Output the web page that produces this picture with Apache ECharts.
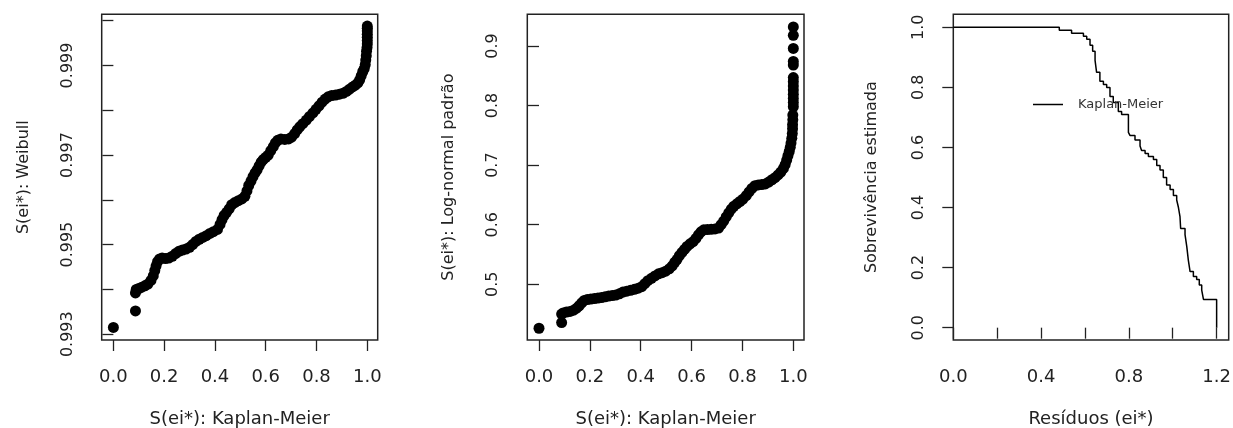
<!DOCTYPE html>
<html><head><meta charset="utf-8">
<script src="https://cdn.jsdelivr.net/npm/echarts@6/dist/echarts.min.js"></script>
<style>html,body{margin:0;padding:0;background:#fff}#c{width:1233px;height:428px}</style>
</head><body><div id="c"></div>
<script>
// Panel 1: S(ei*) Kaplan-Meier vs S(ei*) Weibull
const kmX1 = [0.000,0.087,0.087,0.090,0.100,0.112,0.124,0.136,0.148,0.157,0.163,0.168,0.174,0.182,0.192,0.205,0.218,0.232,0.245,0.258,0.272,0.286,0.300,0.312,0.325,0.338,0.352,0.366,0.380,0.394,0.410,0.420,0.428,0.436,0.446,0.456,0.466,0.478,0.492,0.506,0.518,0.526,0.533,0.542,0.550,0.558,0.566,0.574,0.582,0.590,0.600,0.610,0.620,0.630,0.638,0.647,0.660,0.675,0.690,0.702,0.714,0.724,0.734,0.746,0.760,0.772,0.786,0.798,0.810,0.822,0.834,0.846,0.860,0.875,0.890,0.904,0.918,0.930,0.942,0.953,0.963,0.970,0.976,0.982,0.988,0.992,0.994,0.996,0.997,0.999,1.000,1.000,1.000,1.000,1.000,1.000,1.000];
const weibullY = [0.99315,0.99352,0.99392,0.99400,0.99402,0.99405,0.99408,0.99412,0.99420,0.99430,0.99442,0.99452,0.99462,0.99468,0.99470,0.99469,0.99470,0.99474,0.99480,0.99485,0.99488,0.99490,0.99494,0.99500,0.99507,0.99512,0.99516,0.99520,0.99525,0.99529,0.99534,0.99545,0.99556,0.99565,0.99572,0.99580,0.99589,0.99594,0.99598,0.99602,0.99608,0.99620,0.99632,0.99642,0.99652,0.99660,0.99667,0.99676,0.99684,0.99690,0.99695,0.99700,0.99710,0.99719,0.99727,0.99733,0.99736,0.99735,0.99736,0.99740,0.99748,0.99756,0.99763,0.99770,0.99778,0.99786,0.99794,0.99802,0.99810,0.99818,0.99825,0.99830,0.99833,0.99834,0.99836,0.99838,0.99842,0.99847,0.99852,0.99856,0.99861,0.99868,0.99877,0.99886,0.99893,0.99902,0.99912,0.99922,0.99932,0.99940,0.99948,0.99956,0.99963,0.99970,0.99977,0.99983,0.99988];

// Panel 2: S(ei*) Kaplan-Meier vs S(ei*) Log-normal padrão
const kmX2 = [0.000,0.089,0.089,0.095,0.108,0.122,0.136,0.148,0.158,0.168,0.178,0.190,0.204,0.218,0.232,0.246,0.260,0.274,0.288,0.302,0.316,0.330,0.345,0.360,0.375,0.390,0.404,0.416,0.428,0.442,0.456,0.470,0.484,0.498,0.512,0.524,0.534,0.543,0.552,0.562,0.572,0.582,0.594,0.606,0.617,0.627,0.637,0.648,0.662,0.677,0.692,0.706,0.716,0.726,0.736,0.746,0.756,0.766,0.778,0.790,0.802,0.815,0.826,0.837,0.849,0.862,0.876,0.890,0.903,0.916,0.928,0.940,0.951,0.961,0.968,0.974,0.979,0.984,0.988,0.991,0.994,0.996,0.997,0.997,0.998,0.998,1.000,1.000,1.000,1.000,1.000,1.000,1.000,1.000,1.000,1.000,1.000,1.000,1.000];
const lognormY = [0.4262,0.4357,0.4500,0.4520,0.4535,0.4545,0.4565,0.4600,0.4640,0.4690,0.4730,0.4745,0.4752,0.4760,0.4770,0.4778,0.4790,0.4803,0.4810,0.4820,0.4840,0.4870,0.4885,0.4900,0.4915,0.4935,0.4960,0.5010,0.5060,0.5100,0.5140,0.5175,0.5195,0.5220,0.5260,0.5310,0.5370,0.5420,0.5480,0.5535,0.5585,0.5635,0.5680,0.5715,0.5770,0.5830,0.5880,0.5915,0.5920,0.5922,0.5930,0.5945,0.6000,0.6060,0.6130,0.6200,0.6260,0.6310,0.6350,0.6390,0.6430,0.6490,0.6550,0.6610,0.6655,0.6668,0.6675,0.6685,0.6715,0.6755,0.6790,0.6835,0.6885,0.6945,0.7010,0.7085,0.7160,0.7230,0.7300,0.7370,0.7450,0.7530,0.7610,0.7680,0.7760,0.7840,0.7980,0.8050,0.8120,0.8190,0.8260,0.8330,0.8400,0.8470,0.8680,0.8740,0.8960,0.9180,0.9320];

// Panel 3: Kaplan-Meier curve of residuals
const kmTime = [0.000,0.483,0.539,0.593,0.608,0.623,0.635,0.646,0.653,0.668,0.684,0.699,0.714,0.729,0.752,0.767,0.798,0.805,0.828,0.851,0.858,0.874,0.889,0.912,0.927,0.942,0.957,0.972,0.988,1.003,1.018,1.026,1.033,1.036,1.056,1.064,1.071,1.079,1.094,1.109,1.121,1.132,1.140,1.200];
const kmSurv = [1.000,0.990,0.980,0.970,0.960,0.940,0.920,0.890,0.850,0.820,0.810,0.800,0.770,0.750,0.720,0.710,0.650,0.640,0.625,0.605,0.590,0.580,0.570,0.560,0.540,0.525,0.500,0.475,0.460,0.440,0.425,0.400,0.370,0.330,0.310,0.270,0.225,0.187,0.170,0.160,0.142,0.125,0.094,0.000];

// Tick values / labels
const xTicksKM = [0.0,0.2,0.4,0.6,0.8,1.0];
const yTicksWeibull = [0.993,0.994,0.995,0.996,0.997,0.998,0.999,1.000];
const yLabelsWeibull = [0.993,0.995,0.997,0.999];
const yTicksLognorm = [0.5,0.6,0.7,0.8,0.9];
const xTicksResid = [0.0,0.2,0.4,0.6,0.8,1.0,1.2];
const xLabelsResid = [0.0,0.4,0.8,1.2];
const yTicksSurv = [0.0,0.2,0.4,0.6,0.8,1.0];

const FONT = 'DejaVu Sans';
const TXT = '#222';

function xAxis(gi, min, max, ticks, labels, name, dec) {
  return {
    type: 'value', gridIndex: gi, min: min, max: max,
    name: name, nameLocation: 'middle', nameGap: 70,
    nameTextStyle: {fontFamily: FONT, fontSize: 18, color: TXT},
    axisLine: {show: false}, splitLine: {show: false},
    axisTick: {show: true, inside: false, length: 11, customValues: ticks, lineStyle: {color: '#222', width: 1.3}},
    axisLabel: {show: true, margin: 28, customValues: labels, fontFamily: FONT, fontSize: 18, color: TXT,
      formatter: v => v.toFixed(dec)}
  };
}
function yAxis(gi, min, max, ticks, labels, name, dec, gap) {
  return {
    type: 'value', gridIndex: gi, min: min, max: max,
    name: name, nameLocation: 'middle', nameGap: gap, nameRotate: 90,
    nameTextStyle: {fontFamily: FONT, fontSize: 16, color: TXT},
    axisLine: {show: false}, splitLine: {show: false},
    axisTick: {show: true, inside: false, length: 11, customValues: ticks, lineStyle: {color: '#222', width: 1.3}},
    axisLabel: {show: true, margin: 26, rotate: 90, customValues: labels, fontFamily: FONT, fontSize: 16, color: TXT,
      formatter: v => v.toFixed(dec)}
  };
}

const gridStyle = {show: true, borderColor: '#222', borderWidth: 1.5, backgroundColor: 'transparent',
  containLabel: false, outerBoundsMode: 'none'};

const option = {
  animation: false,
  backgroundColor: '#fff',
  grid: [
    Object.assign({left: 101.7, top: 14.3, width: 276, height: 325.7}, gridStyle),
    Object.assign({left: 527.3, top: 14.3, width: 276.7, height: 325.7}, gridStyle),
    Object.assign({left: 953.3, top: 14.3, width: 275.4, height: 325.7}, gridStyle)
  ],
  xAxis: [
    xAxis(0, -0.046, 1.041, xTicksKM, xTicksKM, 'S(ei*): Kaplan-Meier', 1),
    xAxis(1, -0.046, 1.042, xTicksKM, xTicksKM, 'S(ei*): Kaplan-Meier', 1),
    xAxis(2, 0, 1.255, xTicksResid, xLabelsResid, 'Resíduos (ei*)', 1)
  ],
  yAxis: [
    yAxis(0, 0.99287, 1.000143, yTicksWeibull, yLabelsWeibull, 'S(ei*): Weibull', 3, 70),
    yAxis(1, 0.4065, 0.9532, yTicksLognorm, yTicksLognorm, 'S(ei*): Log-normal padrão', 1, 70),
    yAxis(2, -0.041, 1.0433, yTicksSurv, yTicksSurv, 'Sobrevivência estimada', 1, 73)
  ],
  legend: {
    show: true, data: ['Kaplan-Meier'], left: 1033, top: 98,
    icon: 'rect', itemWidth: 30, itemHeight: 1.5, padding: 0,
    itemStyle: {color: '#000'},
    textStyle: {fontFamily: FONT, fontSize: 13, color: '#333', padding: [0, 0, 0, 10]}
  },
  series: [
    {type: 'scatter', xAxisIndex: 0, yAxisIndex: 0, symbol: 'circle', symbolSize: 11,
     itemStyle: {color: '#000', opacity: 1}, data: kmX1.map((x, i) => [x, weibullY[i]])},
    {type: 'scatter', xAxisIndex: 1, yAxisIndex: 1, symbol: 'circle', symbolSize: 11,
     itemStyle: {color: '#000', opacity: 1}, data: kmX2.map((x, i) => [x, lognormY[i]])},
    {type: 'line', name: 'Kaplan-Meier', xAxisIndex: 2, yAxisIndex: 2, step: 'end', symbol: 'none',
     lineStyle: {color: '#000', width: 1.5}, itemStyle: {color: '#000'},
     data: kmTime.map((t, i) => [t, kmSurv[i]])}
  ]
};
echarts.init(document.getElementById('c'), null, {renderer: 'canvas'}).setOption(option);
</script>
</body></html>
